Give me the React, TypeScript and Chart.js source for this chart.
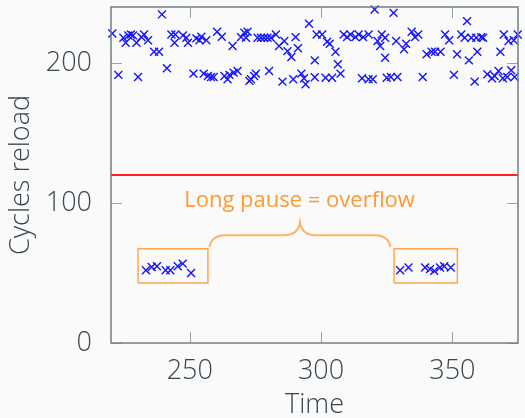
import React, { useEffect, useRef } from 'react';
import { Chart, registerables } from 'chart.js';

Chart.register(...registerables);

// Measured samples (time, cycles reload)
const timeValues = [
  220.5, 222.8, 224.7, 225.6, 226.6, 227.6, 228.4, 229.7, 230.3, 231.6,
  232.6, 234.1, 236.4, 238.3, 239.4, 241.3, 243.0, 244.2, 244.5, 247.4,
  248.7, 249.3, 251.4, 252.5, 253.7, 254.4, 255.3, 256.3, 256.9, 258.1,
  259.1, 260.4, 262.2, 263.2, 264.4, 265.1, 266.3, 266.7, 268.2, 269.5,
  270.8, 271.4, 272.0, 272.7, 273.3, 274.5, 275.2, 275.8, 277.1, 278.3,
  279.6, 280.2, 280.9, 282.8, 284.0, 285.3, 286.0, 287.2, 288.7, 289.4,
  290.3, 291.2, 292.5, 293.5, 294.1, 295.4, 297.6, 297.6, 298.3, 300.4,
  301.7, 302.3, 303.3, 304.2, 305.5, 306.4, 307.4, 308.6, 309.9, 311.2,
  313.1, 314.3, 315.6, 316.0, 318.1, 318.1, 319.7, 320.4, 321.5, 322.5,
  323.1, 324.4, 324.4, 325.0, 326.6, 327.6, 328.6, 329.1, 331.6, 332.4,
  334.5, 335.8, 337.0, 338.7, 340.2, 342.1, 343.4, 345.5, 347.2, 348.8,
  350.6, 351.8, 353.4, 354.7, 355.6, 356.3, 357.2, 358.5, 359.1, 359.5,
  361.0, 361.7, 363.3, 365.1, 366.1, 367.6, 368.3, 369.2, 369.6, 370.9,
  371.4, 372.4, 373.4, 373.7, 374.9,
];
const cycleValues = [
  221.1, 191.5, 218.0, 214.5, 219.7, 220.4, 219.7, 214.5, 190.0, 218.5,
  220.4, 216.2, 208.0, 208.0, 234.7, 196.2, 220.4, 214.5, 220.4, 219.7,
  218.0, 214.5, 192.4, 217.6, 216.2, 218.7, 192.4, 216.2, 190.7, 190.0,
  190.0, 222.3, 218.7, 190.7, 188.4, 191.5, 212.1, 193.1, 194.3, 218.5,
  221.6, 218.0, 222.3, 187.2, 188.4, 190.7, 192.4, 218.0, 218.0, 218.0,
  218.0, 194.3, 218.0, 220.4, 212.1, 186.7, 215.7, 208.5, 204.3, 188.4,
  218.5, 210.5, 192.4, 189.1, 184.8, 228.0, 201.9, 189.8, 220.4, 220.4,
  189.5, 215.2, 213.7, 189.5, 208.0, 199.1, 192.4, 220.4, 218.5, 220.4,
  218.5, 220.4, 189.1, 218.5, 220.4, 188.4, 188.4, 238.2, 215.7, 212.1,
  220.4, 218.0, 203.8, 189.5, 190.0, 235.8, 215.7, 190.0, 209.8, 213.7,
  222.3, 218.5, 220.4, 190.0, 206.2, 208.0, 208.0, 208.0, 220.4, 216.2,
  191.5, 206.2, 220.4, 218.0, 229.9, 201.9, 218.0, 186.7, 218.0, 208.0,
  218.5, 218.0, 192.0, 189.1, 190.7, 194.3, 208.0, 189.1, 220.4, 190.0,
  215.7, 194.8, 216.2, 190.0, 220.4,
];
// Samples after a long pause (overflow)
const pauseTimes = [233.3, 235.5, 237.5, 240.8, 242.6, 245.4, 247.3, 250.5, 330.1, 333.3, 339.6, 341.5, 343.1, 345.3, 346.9, 349.4];
const pauseCycles = [52.0, 54.3, 54.8, 52.0, 52.0, 54.8, 56.7, 50.0, 52.0, 53.9, 53.9, 52.8, 51.5, 53.9, 54.8, 53.9];

const xTicks = [250, 300, 350];
const yTicks = [0, 100, 200];
const xRange = [220, 375];
const yRange = [0, 240];
const thresholdValue = 120;

// annotation geometry in data units
const boxLeftTimes = [230.3, 256.9];
const boxRightTimes = [327.8, 351.9];
const boxCycles = [42.9, 67.4];
const braceTimes = [257.5, 326.4];
const braceCycles = [68.5, 76.9, 86.1]; // base, shoulder, tip
const labelPoint = [291.8, 101.5];
const labelText = 'Long pause = overflow';

const FONT = '"Open Sans", "DejaVu Sans", sans-serif';
const TEXT = '#37474f';
const ORANGE_TEXT = '#ff9933';
const ORANGE_BOX = '#ffa64d';
const ORANGE_BRACE = '#ffb366';

const rect = (t: number[], c: number[]) => [
  { x: t[0], y: c[0] }, { x: t[1], y: c[0] }, { x: t[1], y: c[1] }, { x: t[0], y: c[1] }, { x: t[0], y: c[0] },
];

const decorPlugin = {
  id: 'decor',
  beforeDraw(chart: any) {
    const { ctx, width, height } = chart;
    ctx.save();
    ctx.fillStyle = '#fafafa';
    ctx.fillRect(0, 0, width, height);
    ctx.restore();
  },
  afterDatasetsDraw(chart: any) {
    const { ctx } = chart;
    const xs = chart.scales.x, ys = chart.scales.y;
    const x0 = xs.getPixelForValue(braceTimes[0]);
    const x1 = xs.getPixelForValue(braceTimes[1]);
    const xc = (x0 + x1) / 2;
    const yb = ys.getPixelForValue(braceCycles[0]);
    const ym = ys.getPixelForValue(braceCycles[1]);
    const yt = ys.getPixelForValue(braceCycles[2]);
    const q = 16;
    ctx.save();
    ctx.strokeStyle = ORANGE_BRACE;
    ctx.lineWidth = 2;
    ctx.beginPath();
    ctx.moveTo(x0, yb);
    ctx.quadraticCurveTo(x0 + 2, ym, x0 + q, ym);
    ctx.lineTo(xc - q, ym);
    ctx.quadraticCurveTo(xc - 2, ym, xc, yt);
    ctx.quadraticCurveTo(xc + 2, ym, xc + q, ym);
    ctx.lineTo(x1 - q, ym);
    ctx.quadraticCurveTo(x1 - 2, ym, x1, yb);
    ctx.stroke();
    ctx.fillStyle = ORANGE_TEXT;
    ctx.font = `22px ${FONT}`;
    ctx.textAlign = 'center';
    ctx.textBaseline = 'middle';
    ctx.fillText(labelText, xs.getPixelForValue(labelPoint[0]), ys.getPixelForValue(labelPoint[1]));
    ctx.restore();
  },
  afterDraw(chart: any) {
    const { ctx, chartArea: a } = chart;
    const xs = chart.scales.x, ys = chart.scales.y;
    const tl = 11;
    ctx.save();
    ctx.strokeStyle = '#99a3a8';
    ctx.lineWidth = 1;
    ctx.beginPath();
    xTicks.forEach((v) => {
      const p = Math.round(xs.getPixelForValue(v)) + 0.5;
      ctx.moveTo(p, a.bottom); ctx.lineTo(p, a.bottom - tl);
      ctx.moveTo(p, a.top); ctx.lineTo(p, a.top + tl);
    });
    yTicks.forEach((v) => {
      const p = Math.round(ys.getPixelForValue(v)) + 0.5;
      ctx.moveTo(a.left, p); ctx.lineTo(a.left + tl, p);
      ctx.moveTo(a.right, p); ctx.lineTo(a.right - tl, p);
    });
    ctx.stroke();
    ctx.strokeStyle = '#6f7f86';
    ctx.lineWidth = 1.5;
    ctx.strokeRect(a.left, a.top, a.right - a.left, a.bottom - a.top);
    ctx.restore();
  },
};

export default function App() {
  const ref = useRef<HTMLCanvasElement>(null);
  useEffect(() => {
    document.body.style.margin = '0';
    document.body.style.background = '#fafafa';
    const canvas = ref.current;
    if (!canvas) return;
    const pts = timeValues.map((t, i) => ({ x: t, y: cycleValues[i] }));
    const pausePts = pauseTimes.map((t, i) => ({ x: t, y: pauseCycles[i] }));
    const markerStyle = {
      pointStyle: 'crossRot',
      pointRadius: 5.6,
      pointHoverRadius: 5.6,
      borderColor: 'rgb(20,20,255)',
      backgroundColor: 'rgb(20,20,255)',
      borderWidth: 1.4,
      showLine: false,
      clip: false,
    };
    const chart = new Chart(canvas, {
      type: 'scatter',
      data: {
        datasets: [
          { data: pts, ...markerStyle } as any,
          { data: pausePts, ...markerStyle } as any,
          {
            type: 'line',
            data: [{ x: xRange[0], y: thresholdValue }, { x: xRange[1], y: thresholdValue }],
            borderColor: '#ff2020', borderWidth: 2, pointRadius: 0, showLine: true,
          } as any,
          { type: 'line', data: rect(boxLeftTimes, boxCycles), borderColor: ORANGE_BOX, borderWidth: 1.5, pointRadius: 0, showLine: true, tension: 0 } as any,
          { type: 'line', data: rect(boxRightTimes, boxCycles), borderColor: ORANGE_BOX, borderWidth: 1.5, pointRadius: 0, showLine: true, tension: 0 } as any,
        ],
      },
      options: {
        animation: false,
        responsive: true,
        maintainAspectRatio: false,
        layout: { padding: { top: 5, right: 6, left: 0, bottom: 0 } },
        plugins: { legend: { display: false }, tooltip: { enabled: false } },
        events: [],
        scales: {
          x: {
            type: 'linear',
            min: xRange[0],
            max: xRange[1],
            grid: { display: false },
            border: { display: false },
            afterBuildTicks: (s: any) => { s.ticks = xTicks.map((v) => ({ value: v })); },
            afterFit: (s: any) => { s.height = 75; s.paddingLeft = 0; s.paddingRight = 0; s.paddingTop = 0; s.paddingBottom = 0; },
            ticks: { font: { family: FONT, size: 27, weight: 300 }, color: TEXT, padding: 4, maxRotation: 0 },
            title: { display: true, text: 'Time', color: TEXT, font: { family: FONT, size: 27, weight: 300, lineHeight: 0.8 }, padding: { top: 0, bottom: 2 } },
          },
          y: {
            type: 'linear',
            min: yRange[0],
            max: yRange[1],
            grid: { display: false },
            border: { display: false },
            afterBuildTicks: (s: any) => { s.ticks = yTicks.map((v) => ({ value: v })); },
            afterFit: (s: any) => { s.width = 111; s.paddingLeft = 0; s.paddingRight = 0; s.paddingTop = 0; s.paddingBottom = 0; },
            ticks: { font: { family: FONT, size: 27, weight: 300 }, color: TEXT, padding: 11 },
            title: { display: true, text: 'Cycles reload', color: TEXT, font: { family: FONT, size: 27, weight: 300 }, padding: { top: 5, bottom: 0 } },
          },
        },
      },
      plugins: [decorPlugin],
    });
    return () => chart.destroy();
  }, []);
  return (
    <div style={{ width: 525, height: 418, position: 'relative' }}>
      <canvas ref={ref} />
    </div>
  );
}
